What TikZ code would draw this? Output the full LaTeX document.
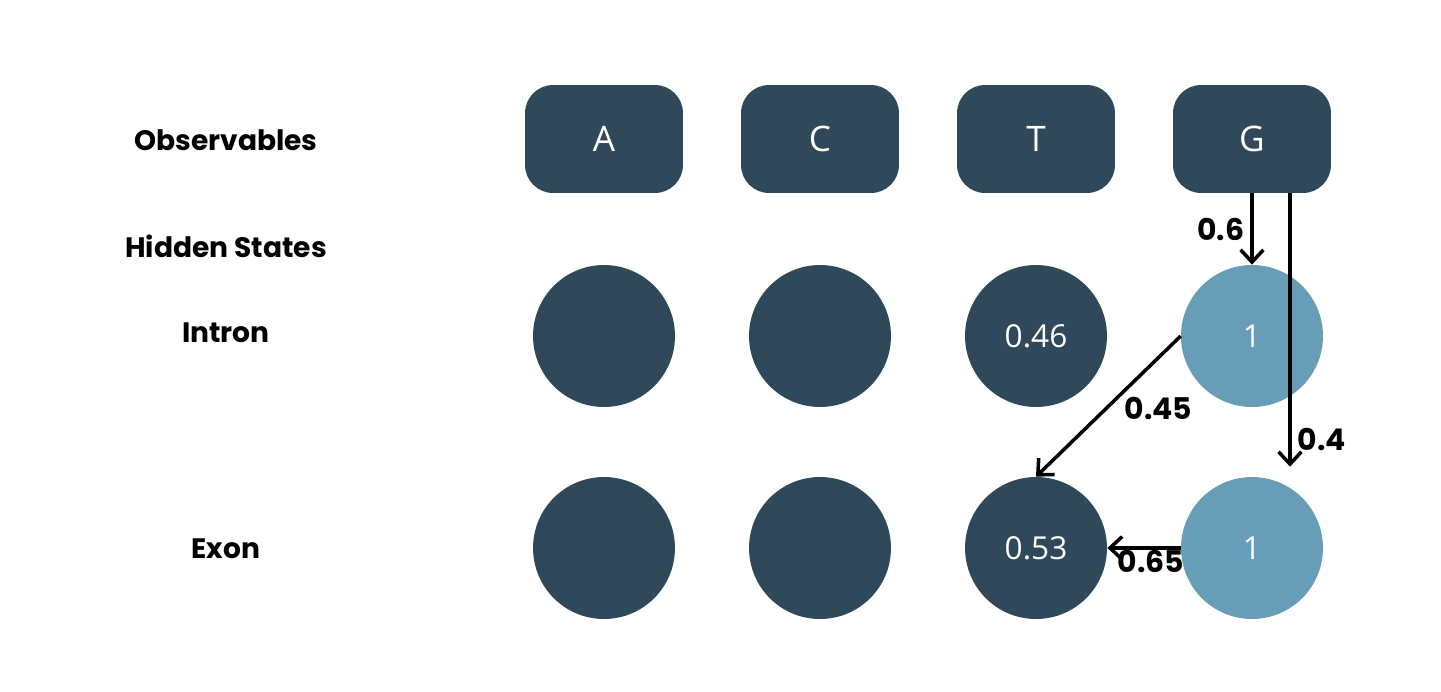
\documentclass[tikz,border=0pt]{standalone}
\usepackage{fontspec}
\setmainfont{Open Sans}
\newfontfamily\labelfont{Poppins}
\usepackage{tikz}
\usetikzlibrary{arrows.meta}
\definecolor{slate}{HTML}{30495A}
\definecolor{steel}{HTML}{689DB8}
\tikzstyle{symbol}=[rounded corners=16pt, fill=slate, text=white, minimum width=3.16cm, minimum height=2.16cm, font=\fontsize{20}{24}\selectfont]
\tikzstyle{state}=[circle, fill=slate, text=white, minimum size=2.84cm, inner sep=0pt, font=\fontsize{18}{21}\selectfont]
\tikzstyle{active}=[state, fill=steel]
\tikzstyle{rowlabel}=[font=\labelfont\bfseries\fontsize{16}{19}\selectfont]
\tikzstyle{prob}=[line width=2pt, -{Straight Barb[length=7pt,width=13pt]}]
\tikzstyle{problabel}=[font=\labelfont\bfseries\fontsize{17}{20}\selectfont]

\begin{document}
\begin{tikzpicture}[x=0.02cm, y=-0.02cm]
\useasboundingbox (0,0) rectangle (1441,691);

\node[rowlabel] (obs) at (226,140) {Observables};
\node[rowlabel] (hid) at (226,246) {Hidden States};
\node[rowlabel] (intron) at (226,333) {Intron};
\node[rowlabel] (exon) at (226,549) {Exon};

\foreach \s [count=\i from 0] in {A,C,T,G}
\node[symbol] (\s) at ({604 + 216*\i},139) {\s};

\node[state] (i0) at (604,336) {};
\node[state] (i1) at (820,336) {};
\node[state] (i2) at (1036,336) {0.46};
\node[active] (i3) at (1252,336) {1};
\node[state] (e0) at (604,548) {};
\node[state] (e1) at (820,548) {};
\node[state] (e2) at (1036,548) {0.53};
\node[active] (e3) at (1252,548) {1};

\draw[prob] (G.south) -- node[problabel, left] {0.6} (i3.north);
\draw[prob] ([xshift=0.76cm]G.south) -- node[problabel, right, pos=0.9] {0.4} ([xshift=0.76cm, yshift=0.2cm]e3.north);
\draw[prob] (i3.west) -- node[problabel, right, pos=0.5, xshift=5pt, yshift=-1pt] {0.45} (e2.north);
\draw[prob] (e3.west) -- node[problabel, below, xshift=4pt, yshift=3pt] {0.65} (e2.east);
\end{tikzpicture}
\end{document}
